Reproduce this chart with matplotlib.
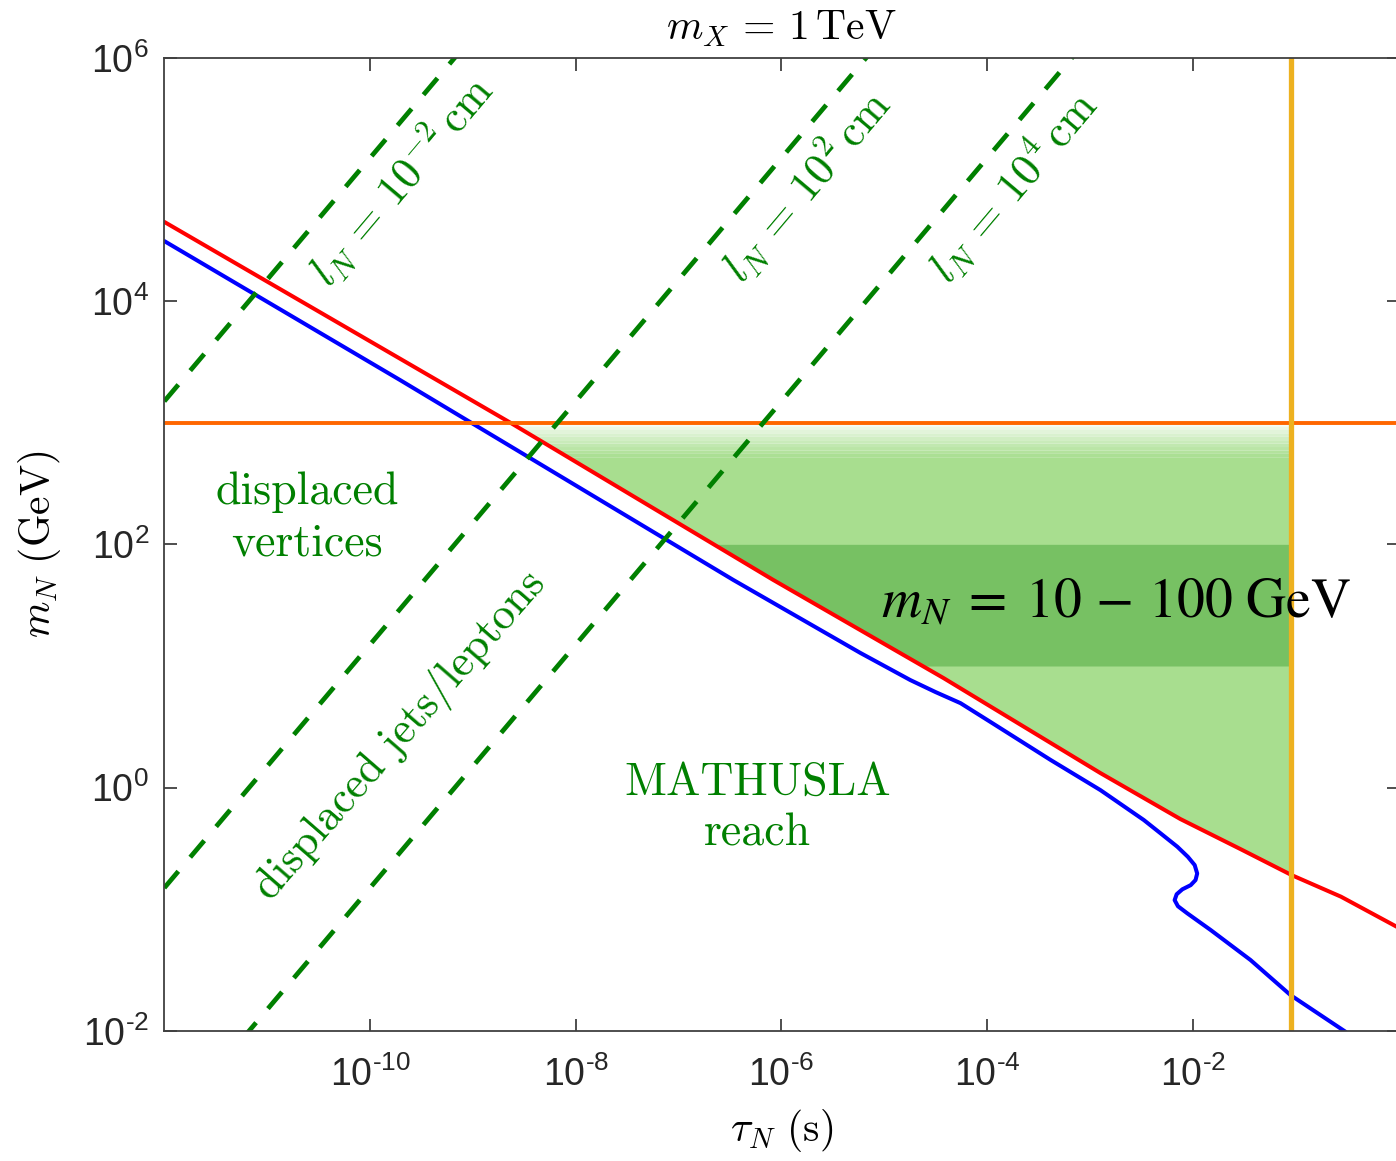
import numpy as np
import matplotlib
matplotlib.use("Agg")
import matplotlib.pyplot as plt
from matplotlib.ticker import FixedLocator, FixedFormatter, NullLocator

plt.rcParams.update({
    "font.family": "Liberation Sans",
    "mathtext.fontset": "custom",
    "mathtext.rm": "Liberation Sans",
    "mathtext.it": "Liberation Sans:italic",
    "mathtext.bf": "Liberation Sans:bold",
})

# ---- physics inputs ----
m_X = 1000.0            # GeV, parent mass
tau_bbn = 0.09          # s, upper lifetime bound
c_cm_per_s = 3e10
decay_lengths_cm = [1e-2, 1e2, 1e4]
decay_length_labels = [r"$l_N\, =\, 10^{-2}\,\mathrm{cm}$",
                       r"$l_N\, =\, 10^{2}\,\mathrm{cm}$",
                       r"$l_N\, =\, 10^{4}\,\mathrm{cm}$"]
band_lo, band_hi = 10.0, 100.0   # GeV

# upper (red) reach boundary
red_tau = [1.0e-12, 2.31e-9, 8.34e-7, 3.76e-5, 1.26e-3, 7.55e-3, 2.89e-2, 9.12e-2,
           2.75e-1, 9.57e-1, 1.0]
red_m = [4.47e4, 1.0e3, 50.9, 7.96, 1.318, 0.552, 0.313, 0.191,
         0.127, 0.0719, 0.0705]

# lower (blue) boundary
blue_tau = [1.0e-12, 1.96e-10, 3.41e-7, 5.85e-6, 1.79e-5, 3.14e-5, 5.50e-5, 1.08e-4,
            4.13e-4, 1.26e-3, 3.33e-3, 4.85e-3, 7.05e-3, 8.93e-3, 1.04e-2, 1.10e-2,
            1.06e-2, 9.51e-3, 7.89e-3, 6.95e-3, 6.64e-3, 7.15e-3, 8.81e-3, 1.49e-2,
            3.63e-2, 8.90e-2, 0.305]
blue_m = [3.11e4, 2.24e3, 50.9, 12.8, 7.66, 6.11, 4.95, 3.46,
          1.69, 0.955, 0.542, 0.421, 0.327, 0.270, 0.231, 0.197,
          0.174, 0.158, 0.146, 0.133, 0.119, 0.106, 0.0927, 0.0675,
          0.0383, 0.0197, 0.00984]

x_ticks = [1e-10, 1e-8, 1e-6, 1e-4, 1e-2]
y_ticks = [1e-2, 1e0, 1e2, 1e4, 1e6]


def pow_label(v):
    e = int(round(np.log10(v)))
    s = str(e).replace("-", r"\text{-}")
    return r"$\mathdefault{10^{%s}}$" % s


green = "#008000"
light_green = "#a8de8f"
dark_green = "#77c163"

fig = plt.figure(figsize=(13.96, 11.61), dpi=100)
ax = fig.add_axes([0.1177, 0.1120, 0.8842, 0.8383])
ax.set_xscale("log")
ax.set_yscale("log")
ax.set_xlim(1e-12, 1.0)
ax.set_ylim(1e-2, 1e6)

# ---- shaded reach region ----
lt_red = np.log10(red_tau)
lm_red = np.log10(red_m)
lt_top = np.interp(np.log10(m_X), lm_red[::-1], lt_red[::-1])
lt = np.linspace(lt_top, np.log10(tau_bbn), 800)
xs = 10 ** lt
lower = 10 ** np.interp(lt, lt_red, lm_red)

fade_depth = 0.28  # decades of soft edge under the m_X line
fade_lo = m_X / 10 ** fade_depth
ax.fill_between(xs, lower, fade_lo, where=lower <= fade_lo, interpolate=True,
                color=light_green, lw=0, zorder=1)
n_strips = 10
edges = np.linspace(np.log10(m_X), np.log10(fade_lo), n_strips + 1)
lg = np.array(matplotlib.colors.to_rgb(light_green))
for k in range(n_strips):
    hi, lo = 10 ** edges[k], 10 ** edges[k + 1]
    t = ((k + 0.5) / n_strips) ** 0.8
    col = (1 - t) * np.ones(3) + t * lg
    ax.fill_between(xs, np.maximum(lower, lo), hi, where=lower <= hi, interpolate=True,
                    color=col, lw=0, zorder=1)

ax.fill_between(xs, np.maximum(lower, band_lo), band_hi, where=lower <= band_hi,
                interpolate=True, color=dark_green, lw=0, zorder=1.2)

# ---- boundary curves ----
ax.plot(blue_tau, blue_m, color="#0000ff", lw=2.9, zorder=2,
        solid_capstyle="round", solid_joinstyle="round")
ax.plot(red_tau, red_m, color="#ff0000", lw=2.9, zorder=2.1,
        solid_capstyle="round", solid_joinstyle="round")
ax.axhline(m_X, color="#ff6600", lw=2.8, zorder=2.5)

# ---- constant decay-length lines: m_N = c tau m_X / (2 l_N) ----
tau_line = np.array([1e-12, 1.0])
for l in decay_lengths_cm:
    ax.plot(tau_line, c_cm_per_s * tau_line * m_X / (2 * l), color=green, lw=3.4,
            dashes=(4.6, 3.9), dash_capstyle="butt", zorder=3)

ax.axvline(tau_bbn, color="#edb120", lw=3.8, zorder=3.5)

# ---- annotations ----
rot = 49.8
label_pos = [(10 ** -9.70, 10 ** 4.99), (10 ** -5.76, 10 ** 4.95), (10 ** -3.75, 10 ** 4.95)]
for (px, py), txt in zip(label_pos, decay_length_labels):
    ax.text(px, py, txt, color=green, fontsize=32, rotation=rot, rotation_mode="anchor",
            ha="center", va="center", math_fontfamily="cm", zorder=5)

ax.text(10 ** -10.61, 10 ** 2.216, "displaced\nvertices", fontfamily="cmr10", fontsize=33,
        color=green, ha="center", va="center", multialignment="center", linespacing=1.28, zorder=5)
ax.text(10 ** -6.234, 10 ** -0.17, "MATHUSLA\nreach", fontfamily="cmr10", fontsize=33,
        color=green, ha="center", va="center", multialignment="center", linespacing=1.25, zorder=5)
ax.text(10 ** -9.707, 10 ** 0.432, "displaced jets/leptons", fontfamily="cmr10", fontsize=32,
        color=green, ha="center", va="center", rotation=49, rotation_mode="anchor", zorder=5)
ax.text(10 ** -2.752, 10 ** 1.518, r"$m_N\; =\; 10\, -\, 100\ \mathrm{GeV}$", fontsize=40,
        color="black", ha="center", va="center", math_fontfamily="stix", zorder=6)

# ---- axes styling ----
ax.xaxis.set_major_locator(FixedLocator(x_ticks))
ax.xaxis.set_major_formatter(FixedFormatter([pow_label(v) for v in x_ticks]))
ax.yaxis.set_major_locator(FixedLocator(y_ticks))
ax.yaxis.set_major_formatter(FixedFormatter([pow_label(v) for v in y_ticks]))
ax.xaxis.set_minor_locator(NullLocator())
ax.yaxis.set_minor_locator(NullLocator())
ax.tick_params(which="major", direction="in", length=9, width=1.3, colors="#404040",
               labelcolor="#262626", labelsize=27, top=True, right=True)
ax.tick_params(axis="x", pad=18)
ax.tick_params(axis="y", pad=11)
for sp in ax.spines.values():
    sp.set_color("#404040")
    sp.set_linewidth(1.3)
    sp.set_zorder(7)

ax.set_title(r"$m_X\, =\, 1\,\mathrm{TeV}$", fontsize=30, math_fontfamily="cm", pad=13)
ax.set_xlabel(r"$\tau_N\ (\mathrm{s})$", fontsize=30, math_fontfamily="cm", labelpad=10)
ax.set_ylabel(r"$m_N\ (\mathrm{GeV})$", fontsize=30, math_fontfamily="cm", labelpad=14)

fig.savefig("out.png", dpi=100)
